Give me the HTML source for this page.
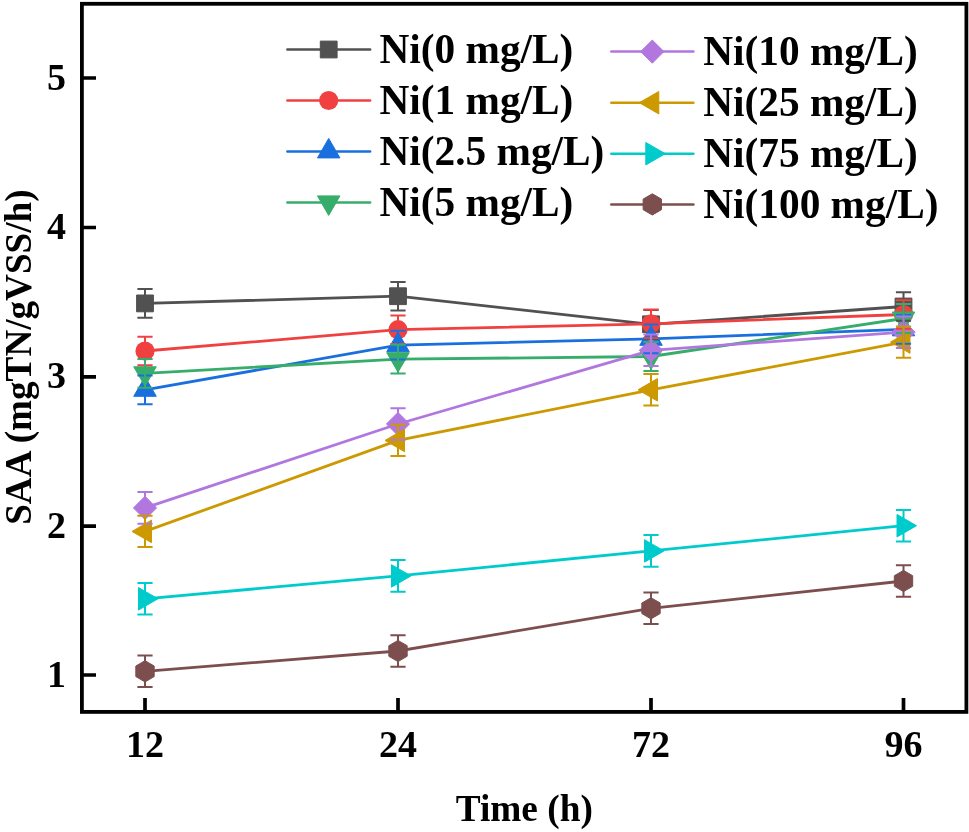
<!DOCTYPE html>
<html><head><meta charset="utf-8"><style>
html,body{margin:0;padding:0;background:#fff;}
svg{display:block;}
text{font-family:"Liberation Serif",serif;font-weight:bold;fill:#000;}
svg{will-change:transform;}
</style></head><body>
<svg width="969" height="832" viewBox="0 0 969 832">
<rect width="969" height="832" fill="#fff"/>

<polyline points="145,303.4 398,296.2 651,324.3 903.5,306.5" fill="none" stroke="#515151" stroke-width="2.8" stroke-linejoin="round"/>
<polyline points="145,351.0 398,329.7 651,323.8 903.5,314.5" fill="none" stroke="#F14040" stroke-width="2.8" stroke-linejoin="round"/>
<polyline points="145,389.8 398,345.2 651,338.8 903.5,329.3" fill="none" stroke="#1A6FDF" stroke-width="2.8" stroke-linejoin="round"/>
<polyline points="145,373.3 398,359.2 651,356.5 903.5,318.5" fill="none" stroke="#37AD6B" stroke-width="2.8" stroke-linejoin="round"/>
<polyline points="145,507.9 398,424.0 651,350.3 903.5,332.2" fill="none" stroke="#B177DE" stroke-width="2.8" stroke-linejoin="round"/>
<polyline points="145,531.4 398,440.4 651,389.8 903.5,342.1" fill="none" stroke="#CC9900" stroke-width="2.8" stroke-linejoin="round"/>
<polyline points="145,598.8 398,575.9 651,550.9 903.5,525.7" fill="none" stroke="#00CBCC" stroke-width="2.8" stroke-linejoin="round"/>
<polyline points="145,671.3 398,651.0 651,608.3 903.5,581.0" fill="none" stroke="#7D4E4E" stroke-width="2.8" stroke-linejoin="round"/>
<rect x="136.60" y="295.00" width="16.8" height="16.8" fill="#515151" stroke="#515151" stroke-width="1" stroke-linejoin="round"/>
<rect x="389.60" y="287.80" width="16.8" height="16.8" fill="#515151" stroke="#515151" stroke-width="1" stroke-linejoin="round"/>
<rect x="642.60" y="315.90" width="16.8" height="16.8" fill="#515151" stroke="#515151" stroke-width="1" stroke-linejoin="round"/>
<rect x="895.10" y="298.10" width="16.8" height="16.8" fill="#515151" stroke="#515151" stroke-width="1" stroke-linejoin="round"/>
<circle cx="145" cy="351.0" r="9.6" fill="#F14040"/>
<circle cx="398" cy="329.7" r="9.6" fill="#F14040"/>
<circle cx="651" cy="323.8" r="9.6" fill="#F14040"/>
<circle cx="903.5" cy="314.5" r="9.6" fill="#F14040"/>
<polygon points="145.00,376.81 156.25,396.30 133.75,396.30" fill="#1A6FDF" stroke="#1A6FDF" stroke-width="1" stroke-linejoin="round"/>
<polygon points="398.00,332.21 409.25,351.70 386.75,351.70" fill="#1A6FDF" stroke="#1A6FDF" stroke-width="1" stroke-linejoin="round"/>
<polygon points="651.00,325.81 662.25,345.30 639.75,345.30" fill="#1A6FDF" stroke="#1A6FDF" stroke-width="1" stroke-linejoin="round"/>
<polygon points="903.50,316.31 914.75,335.80 892.25,335.80" fill="#1A6FDF" stroke="#1A6FDF" stroke-width="1" stroke-linejoin="round"/>
<polygon points="145.00,386.29 156.25,366.80 133.75,366.80" fill="#37AD6B" stroke="#37AD6B" stroke-width="1" stroke-linejoin="round"/>
<polygon points="398.00,372.19 409.25,352.70 386.75,352.70" fill="#37AD6B" stroke="#37AD6B" stroke-width="1" stroke-linejoin="round"/>
<polygon points="651.00,369.49 662.25,350.00 639.75,350.00" fill="#37AD6B" stroke="#37AD6B" stroke-width="1" stroke-linejoin="round"/>
<polygon points="903.50,331.49 914.75,312.00 892.25,312.00" fill="#37AD6B" stroke="#37AD6B" stroke-width="1" stroke-linejoin="round"/>
<polygon points="145.00,496.30 156.60,507.90 145.00,519.50 133.40,507.90" fill="#B177DE" stroke="#B177DE" stroke-width="1" stroke-linejoin="round"/>
<polygon points="398.00,412.40 409.60,424.00 398.00,435.60 386.40,424.00" fill="#B177DE" stroke="#B177DE" stroke-width="1" stroke-linejoin="round"/>
<polygon points="651.00,338.70 662.60,350.30 651.00,361.90 639.40,350.30" fill="#B177DE" stroke="#B177DE" stroke-width="1" stroke-linejoin="round"/>
<polygon points="903.50,320.60 915.10,332.20 903.50,343.80 891.90,332.20" fill="#B177DE" stroke="#B177DE" stroke-width="1" stroke-linejoin="round"/>
<polygon points="132.01,531.40 151.50,520.15 151.50,542.65" fill="#CC9900" stroke="#CC9900" stroke-width="1" stroke-linejoin="round"/>
<polygon points="385.01,440.40 404.50,429.15 404.50,451.65" fill="#CC9900" stroke="#CC9900" stroke-width="1" stroke-linejoin="round"/>
<polygon points="638.01,389.80 657.50,378.55 657.50,401.05" fill="#CC9900" stroke="#CC9900" stroke-width="1" stroke-linejoin="round"/>
<polygon points="890.51,342.10 910.00,330.85 910.00,353.35" fill="#CC9900" stroke="#CC9900" stroke-width="1" stroke-linejoin="round"/>
<polygon points="157.99,598.80 138.50,587.55 138.50,610.05" fill="#00CBCC" stroke="#00CBCC" stroke-width="1" stroke-linejoin="round"/>
<polygon points="410.99,575.90 391.50,564.65 391.50,587.15" fill="#00CBCC" stroke="#00CBCC" stroke-width="1" stroke-linejoin="round"/>
<polygon points="663.99,550.90 644.50,539.65 644.50,562.15" fill="#00CBCC" stroke="#00CBCC" stroke-width="1" stroke-linejoin="round"/>
<polygon points="916.49,525.70 897.00,514.45 897.00,536.95" fill="#00CBCC" stroke="#00CBCC" stroke-width="1" stroke-linejoin="round"/>
<polygon points="145.00,660.70 154.18,666.00 154.18,676.60 145.00,681.90 135.82,676.60 135.82,666.00" fill="#7D4E4E" stroke="#7D4E4E" stroke-width="1" stroke-linejoin="round"/>
<polygon points="398.00,640.40 407.18,645.70 407.18,656.30 398.00,661.60 388.82,656.30 388.82,645.70" fill="#7D4E4E" stroke="#7D4E4E" stroke-width="1" stroke-linejoin="round"/>
<polygon points="651.00,597.70 660.18,603.00 660.18,613.60 651.00,618.90 641.82,613.60 641.82,603.00" fill="#7D4E4E" stroke="#7D4E4E" stroke-width="1" stroke-linejoin="round"/>
<polygon points="903.50,570.40 912.68,575.70 912.68,586.30 903.50,591.60 894.32,586.30 894.32,575.70" fill="#7D4E4E" stroke="#7D4E4E" stroke-width="1" stroke-linejoin="round"/>
<path d="M145,289.10V317.70M137.4,289.10H152.6M137.4,317.70H152.6M398,281.90V310.50M390.4,281.90H405.6M390.4,310.50H405.6M651,310.00V338.60M643.4,310.00H658.6M643.4,338.60H658.6M903.5,292.20V320.80M895.9,292.20H911.1M895.9,320.80H911.1" fill="none" stroke="#515151" stroke-width="2.0"/>
<path d="M145,336.70V365.30M137.4,336.70H152.6M137.4,365.30H152.6M398,315.40V344.00M390.4,315.40H405.6M390.4,344.00H405.6M651,309.50V338.10M643.4,309.50H658.6M643.4,338.10H658.6M903.5,300.20V328.80M895.9,300.20H911.1M895.9,328.80H911.1" fill="none" stroke="#F14040" stroke-width="2.0"/>
<path d="M145,375.40V404.20M137.4,375.40H152.6M137.4,404.20H152.6M398,330.80V359.60M390.4,330.80H405.6M390.4,359.60H405.6M651,324.40V353.20M643.4,324.40H658.6M643.4,353.20H658.6M903.5,314.90V343.70M895.9,314.90H911.1M895.9,343.70H911.1" fill="none" stroke="#1A6FDF" stroke-width="2.0"/>
<path d="M145,358.90V387.70M137.4,358.90H152.6M137.4,387.70H152.6M398,344.80V373.60M390.4,344.80H405.6M390.4,373.60H405.6M651,342.10V370.90M643.4,342.10H658.6M643.4,370.90H658.6M903.5,304.10V332.90M895.9,304.10H911.1M895.9,332.90H911.1" fill="none" stroke="#37AD6B" stroke-width="2.0"/>
<path d="M145,492.10V523.70M137.4,492.10H152.6M137.4,523.70H152.6M398,408.20V439.80M390.4,408.20H405.6M390.4,439.80H405.6M651,334.50V366.10M643.4,334.50H658.6M643.4,366.10H658.6M903.5,316.40V348.00M895.9,316.40H911.1M895.9,348.00H911.1" fill="none" stroke="#B177DE" stroke-width="2.0"/>
<path d="M145,515.70V547.10M137.4,515.70H152.6M137.4,547.10H152.6M398,424.70V456.10M390.4,424.70H405.6M390.4,456.10H405.6M651,374.10V405.50M643.4,374.10H658.6M643.4,405.50H658.6M903.5,326.40V357.80M895.9,326.40H911.1M895.9,357.80H911.1" fill="none" stroke="#CC9900" stroke-width="2.0"/>
<path d="M145,583.00V614.60M137.4,583.00H152.6M137.4,614.60H152.6M398,560.10V591.70M390.4,560.10H405.6M390.4,591.70H405.6M651,535.10V566.70M643.4,535.10H658.6M643.4,566.70H658.6M903.5,509.90V541.50M895.9,509.90H911.1M895.9,541.50H911.1" fill="none" stroke="#00CBCC" stroke-width="2.0"/>
<path d="M145,655.60V687.00M137.4,655.60H152.6M137.4,687.00H152.6M398,635.30V666.70M390.4,635.30H405.6M390.4,666.70H405.6M651,592.60V624.00M643.4,592.60H658.6M643.4,624.00H658.6M903.5,565.30V596.70M895.9,565.30H911.1M895.9,596.70H911.1" fill="none" stroke="#7D4E4E" stroke-width="2.0"/>
<rect x="81.9" y="3.8" width="884.5" height="708.1" fill="none" stroke="#000" stroke-width="3.8"/>
<path d="M83,78H96M83,227.5H96M83,376.8H96M83,526.1H96M83,675H96M145,711V698M398,711V698M651,711V698M903.5,711V698" stroke="#000" stroke-width="3.7" fill="none"/>
<text x="66" y="89.5" font-size="38" text-anchor="end">5</text>
<text x="66" y="239.0" font-size="38" text-anchor="end">4</text>
<text x="66" y="388.3" font-size="38" text-anchor="end">3</text>
<text x="66" y="537.6" font-size="38" text-anchor="end">2</text>
<text x="66" y="686.5" font-size="38" text-anchor="end">1</text>
<text x="145" y="756.5" font-size="38" text-anchor="middle">12</text>
<text x="398" y="756.5" font-size="38" text-anchor="middle">24</text>
<text x="651" y="756.5" font-size="38" text-anchor="middle">72</text>
<text x="903.5" y="756.5" font-size="38" text-anchor="middle">96</text>
<text x="524.3" y="821.3" font-size="37.3" text-anchor="middle">Time (h)</text>
<text transform="translate(30.6,357.1) rotate(-90)" x="0" y="0" font-size="37.15" text-anchor="middle">SAA (mgTN/gVSS/h)</text>
<line x1="287.4" y1="49.5" x2="370.1" y2="49.5" stroke="#515151" stroke-width="2.5" stroke-linecap="round"/>
<rect x="320.30" y="41.10" width="16.8" height="16.8" fill="#515151" stroke="#515151" stroke-width="1" stroke-linejoin="round"/>
<text x="379.5" y="62.8" font-size="41.3">Ni(0 mg/L)</text>
<line x1="287.4" y1="100.5" x2="370.1" y2="100.5" stroke="#F14040" stroke-width="2.5" stroke-linecap="round"/>
<circle cx="328.7" cy="100.5" r="9.6" fill="#F14040"/>
<text x="379.5" y="113.8" font-size="41.3">Ni(1 mg/L)</text>
<line x1="287.4" y1="151.4" x2="370.1" y2="151.4" stroke="#1A6FDF" stroke-width="2.5" stroke-linecap="round"/>
<polygon points="328.70,138.41 339.95,157.90 317.45,157.90" fill="#1A6FDF" stroke="#1A6FDF" stroke-width="1" stroke-linejoin="round"/>
<text x="379.5" y="164.7" font-size="41.3">Ni(2.5 mg/L)</text>
<line x1="287.4" y1="202.4" x2="370.1" y2="202.4" stroke="#37AD6B" stroke-width="2.5" stroke-linecap="round"/>
<polygon points="328.70,215.39 339.95,195.90 317.45,195.90" fill="#37AD6B" stroke="#37AD6B" stroke-width="1" stroke-linejoin="round"/>
<text x="379.5" y="215.7" font-size="41.3">Ni(5 mg/L)</text>
<line x1="611.3" y1="51.6" x2="693.4" y2="51.6" stroke="#B177DE" stroke-width="2.5" stroke-linecap="round"/>
<polygon points="652.30,40.00 663.90,51.60 652.30,63.20 640.70,51.60" fill="#B177DE" stroke="#B177DE" stroke-width="1" stroke-linejoin="round"/>
<text x="703.3" y="64.9" font-size="41.3">Ni(10 mg/L)</text>
<line x1="611.3" y1="102.7" x2="693.4" y2="102.7" stroke="#CC9900" stroke-width="2.5" stroke-linecap="round"/>
<polygon points="639.31,102.70 658.80,91.45 658.80,113.95" fill="#CC9900" stroke="#CC9900" stroke-width="1" stroke-linejoin="round"/>
<text x="703.3" y="116.0" font-size="41.3">Ni(25 mg/L)</text>
<line x1="611.3" y1="153.7" x2="693.4" y2="153.7" stroke="#00CBCC" stroke-width="2.5" stroke-linecap="round"/>
<polygon points="665.29,153.70 645.80,142.45 645.80,164.95" fill="#00CBCC" stroke="#00CBCC" stroke-width="1" stroke-linejoin="round"/>
<text x="703.3" y="167.0" font-size="41.3">Ni(75 mg/L)</text>
<line x1="611.3" y1="204.4" x2="693.4" y2="204.4" stroke="#7D4E4E" stroke-width="2.5" stroke-linecap="round"/>
<polygon points="652.30,193.80 661.48,199.10 661.48,209.70 652.30,215.00 643.12,209.70 643.12,199.10" fill="#7D4E4E" stroke="#7D4E4E" stroke-width="1" stroke-linejoin="round"/>
<text x="703.3" y="217.7" font-size="41.3">Ni(100 mg/L)</text>
</svg></body></html>
